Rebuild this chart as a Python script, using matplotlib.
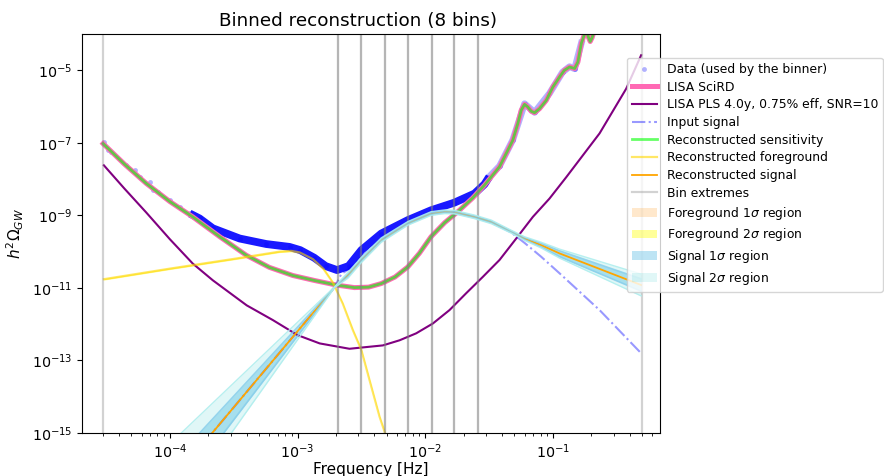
import numpy as np
import matplotlib
matplotlib.use("Agg")
import matplotlib.pyplot as plt
from matplotlib.ticker import NullLocator, FixedLocator

# ---------------- data ----------------
data_f = np.array([3.04e-5, 3.27e-5, 3.47e-5, 4.56e-5, 5.30e-5, 5.80e-5, 6.95e-5, 7.37e-5, 8.05e-5,
                   9.95e-5, 1.19e-4, 1.43e-4, 1.71e-4, 2.17e-4, 3.52e-4, 5.69e-4, 8.65e-4, 1.05e-3,
                   1.35e-3, 1.66e-3, 2.04e-3, 2.51e-3, 3.16e-3, 4.53e-3, 7.31e-3, 1.11e-2, 1.69e-2,
                   2.43e-2, 2.91e-2, 3.18e-2, 3.82e-2, 4.85e-2, 6.0e-2, 7.18e-2, 9.4e-2, 0.119,
                   0.135, 0.148, 0.167])
data_omega = np.array([1.06e-7, 6.25e-8, 5.6e-8, 2.41e-8, 1.76e-8, 1.11e-8, 8.4e-9, 4.9e-9, 4.4e-9,
                       2.6e-9, 1.7e-9, 1.13e-9, 8.2e-10, 4.4e-10, 2.3e-10, 1.62e-10, 1.35e-10, 1.1e-10,
                       6.8e-11, 4.0e-11, 3.1e-11, 4.0e-11, 1.1e-10, 3.16e-10, 7.4e-10, 1.38e-9, 2.24e-9,
                       3.98e-9, 7.2e-9, 1.17e-8, 2.29e-8, 1.2e-7, 1.2e-6, 6.9e-7, 2.3e-6, 8.9e-6,
                       1.26e-5, 1.1e-5, 5.6e-5])

sens_f = np.array([3.0e-5, 4.4e-5, 6.53e-5, 1.0e-4, 1.51e-4, 2.45e-4, 3.98e-4, 6.0e-4, 9.18e-4, 1.36e-3,
                   2.01e-3, 2.79e-3, 3.6e-3, 4.53e-3, 5.8e-3, 7.31e-3, 9.0e-3, 1.11e-2, 1.42e-2, 1.80e-2,
                   2.35e-2, 2.91e-2, 3.82e-2, 4.85e-2, 5.31e-2, 5.65e-2, 6.0e-2,
                   6.35e-2, 6.76e-2, 7.18e-2, 7.85e-2, 8.87e-2, 0.1, 0.113, 0.123, 0.135, 0.148,
                   0.157, 0.167, 0.177, 0.183, 0.19, 0.196, 0.203, 0.21, 0.26, 0.35, 0.5])
sens_omega = np.array([9.5e-8, 2.6e-8, 7.6e-9, 2.4e-9, 9.1e-10, 2.6e-10, 7.9e-11, 3.7e-11, 2.2e-11, 1.6e-11,
                       1.2e-11, 1.02e-11, 1.05e-11, 1.32e-11, 2.0e-11, 3.8e-11, 9.0e-11, 2.57e-10, 6.3e-10, 1.26e-9,
                       3.0e-9, 6.8e-9, 2.19e-8, 1.17e-7, 3.39e-7, 7.94e-7, 1.15e-6,
                       9.77e-7, 7.41e-7, 6.76e-7, 8.71e-7, 1.48e-6, 3.47e-6, 6.61e-6, 1.0e-5, 1.23e-5, 1.12e-5,
                       1.70e-5, 5.5e-5, 1.0e-4, 1.3e-4, 8.0e-5, 6.2e-5, 8.0e-5, 1.2e-4, 4.0e-4, 1.5e-3, 5.0e-3])
recsens_omega = sens_omega.copy()   # reconstructed sensitivity lies on the SciRD curve

pls_f = np.array([3.04e-5, 4.4e-5, 6.53e-5, 1.0e-4, 1.51e-4, 2.17e-4, 3.52e-4, 4.0e-4, 6.4e-4, 1.0e-3,
                  1.49e-3, 2.55e-3, 4.66e-3, 6.30e-3, 8.5e-3, 1.15e-2, 1.55e-2, 2.09e-2, 2.82e-2, 3.82e-2,
                  5.16e-2, 6.97e-2, 9.4e-2, 0.127, 0.232, 0.375, 0.491])
pls_omega = np.array([2.4e-8, 5.5e-9, 1.2e-9, 2.2e-10, 4.7e-11, 1.62e-11, 4.6e-12, 3.3e-12, 1.3e-12, 5.0e-13,
                      2.95e-13, 2.1e-13, 2.6e-13, 3.6e-13, 5.6e-13, 1.05e-12, 2.45e-12, 7.1e-12, 2.0e-11, 5.9e-11,
                      2.3e-10, 9.1e-10, 2.9e-9, 1.12e-8, 1.82e-7, 3.1e-6, 2.6e-5])

input_f = np.array([1.0e-4, 1.95e-3, 2.2e-3, 2.48e-3, 3.16e-3, 4.53e-3, 7.31e-3, 1.11e-2, 1.42e-2,
                    1.69e-2, 2.43e-2, 3.29e-2, 4.71e-2, 6.0e-2, 8.09e-2, 0.113, 0.232, 0.491])
input_omega = np.array([4.07e-17, 1.05e-11, 2.40e-11, 3.16e-11, 7.08e-11, 2.24e-10, 6.03e-10, 1.12e-9,
                        1.26e-9, 1.23e-9, 9.12e-10, 6.61e-10, 3.39e-10, 1.74e-10, 7.24e-11, 2.51e-11,
                        2.45e-12, 1.58e-13])

fg_f = np.array([3.04e-5, 1.0e-4, 3.16e-4, 7.23e-4, 8.9e-4, 1.04e-3, 1.32e-3, 1.6e-3, 1.89e-3, 2.26e-3,
                 2.71e-3, 3.16e-3, 3.66e-3, 4.39e-3, 4.80e-3, 5.25e-3])
fg_omega = np.array([1.74e-11, 3.4e-11, 6.3e-11, 1.0e-10, 1.05e-10, 9.5e-11, 6.2e-11, 3.3e-11, 1.41e-11, 3.7e-12,
                     6.9e-13, 1.95e-13, 2.9e-14, 2.8e-15, 1.1e-15, 3.0e-16])
fg_1s_lo = fg_omega * 0.97
fg_1s_hi = fg_omega * 1.03
fg_2s_lo = fg_omega * 0.94
fg_2s_hi = fg_omega * 1.06

sig_f = np.array([1.0e-4, 1.95e-3, 2.48e-3, 3.16e-3, 4.53e-3, 7.31e-3, 1.11e-2, 1.42e-2, 1.69e-2,
                  2.43e-2, 3.29e-2, 4.71e-2, 6.0e-2, 8.09e-2, 0.113, 0.491])
sig_omega = np.array([4.07e-17, 1.05e-11, 2.24e-11, 5.89e-11, 2.09e-10, 6.03e-10, 1.12e-9, 1.26e-9, 1.23e-9,
                      9.12e-10, 6.61e-10, 3.55e-10, 2.29e-10, 1.51e-10, 8.91e-11, 1.20e-11])
sig_2s_hi = np.array([5.01e-16, 1.07e-11, 2.69e-11, 6.92e-11, 2.40e-10, 6.76e-10, 1.26e-9, 1.41e-9, 1.38e-9,
                      1.02e-9, 7.41e-10, 3.89e-10, 2.57e-10, 1.82e-10, 1.17e-10, 2.40e-11])
sig_1s_hi = np.array([1.29e-16, 1.06e-11, 2.45e-11, 6.38e-11, 2.24e-10, 6.38e-10, 1.19e-9, 1.33e-9, 1.30e-9,
                      9.66e-10, 7.0e-10, 3.72e-10, 2.45e-10, 1.70e-10, 1.05e-10, 1.78e-11])
sig_1s_lo = np.array([1.12e-17, 1.04e-11, 2.04e-11, 5.43e-11, 1.95e-10, 5.69e-10, 1.06e-9, 1.19e-9, 1.16e-9,
                      8.61e-10, 6.24e-10, 3.39e-10, 2.14e-10, 1.35e-10, 7.24e-11, 8.13e-12])
sig_2s_lo = np.array([4.07e-18, 1.02e-11, 1.86e-11, 5.01e-11, 1.82e-10, 5.37e-10, 1.0e-9, 1.12e-9, 1.10e-9,
                      8.13e-10, 5.89e-10, 3.24e-10, 2.04e-10, 1.26e-10, 6.61e-11, 6.03e-12])

bin_edges = [3.0e-5, 2.07e-3, 3.16e-3, 4.8e-3, 7.3e-3, 1.13e-2, 1.69e-2, 2.58e-2, 0.5]

y_ticks = [1e-15, 1e-13, 1e-11, 1e-9, 1e-7, 1e-5]

# ---------------- figure ----------------
plt.rcParams['font.size'] = 10
fig = plt.figure(figsize=(8.84, 4.76), dpi=100)
ax = fig.add_axes([82 / 884, 1 - 433 / 476, (660 - 82) / 884, (433 - 34) / 476])
ax.set_xscale('log')
ax.set_yscale('log')

# data
dense = (data_f >= 1.43e-4) & (data_f <= 3.18e-2)
high = data_f >= 3.18e-2
ax.plot(data_f[dense], data_omega[dense], '-', color='blue', lw=5.6, alpha=0.9, solid_capstyle='butt')
ax.plot(data_f[high], data_omega[high], '-', color='blue', lw=4.8, alpha=0.3)
ax.plot(data_f, data_omega, 'o', color='blue', alpha=0.3, ms=3.5, mew=0,
        label='Data (used by the binner)')

ax.plot(sens_f, sens_omega, color='hotpink', lw=3.6, label='LISA SciRD')
ax.plot(pls_f, pls_omega, color='purple', lw=1.5, label='LISA PLS 4.0y, 0.75% eff, SNR=10')
ax.plot(input_f, input_omega, color='blue', alpha=0.4, lw=1.5, ls='-.', label='Input signal')
ax.plot(sens_f, recsens_omega, color='lime', alpha=0.6, lw=2.0, label='Reconstructed sensitivity')
ax.plot(fg_f, fg_omega, color='gold', alpha=0.6, lw=1.6, label='Reconstructed foreground')
ax.plot(sig_f, sig_omega, color='orange', lw=1.3, label='Reconstructed signal')

for i in range(len(bin_edges) - 1):
    ax.axvline(bin_edges[i], color='gray', alpha=0.35, lw=1.6,
               label='Bin extremes' if i == 0 else None)
    ax.axvline(bin_edges[i + 1], color='gray', alpha=0.35, lw=1.6)

ax.fill_between(fg_f, fg_1s_lo, fg_1s_hi, color='darkorange', alpha=0.2, lw=0,
                label=r'Foreground 1$\sigma$ region')
ax.fill_between(fg_f, fg_2s_lo, fg_2s_hi, color='yellow', alpha=0.4, lw=0,
                label=r'Foreground 2$\sigma$ region')
ax.fill_between(sig_f, sig_1s_lo, sig_1s_hi, color='skyblue', alpha=0.55, lw=0,
                label=r'Signal 1$\sigma$ region')
ax.fill_between(sig_f, sig_2s_lo, sig_2s_hi, color='c', alpha=0.12, lw=0,
                label=r'Signal 2$\sigma$ region')
# outlines of the signal regions (drawn as lines, above the reconstructed signal)
ax.plot(sig_f, sig_1s_hi, color='skyblue', lw=1.2, alpha=0.85)
ax.plot(sig_f, sig_1s_lo, color='skyblue', lw=1.2, alpha=0.85)
ax.plot(sig_f, sig_2s_hi, color='paleturquoise', lw=1.0, alpha=0.9)
ax.plot(sig_f, sig_2s_lo, color='paleturquoise', lw=1.0, alpha=0.9)

ax.set_xlim(2.05e-5, 0.69)
ax.set_ylim(1e-15, 1e-4)
ax.yaxis.set_major_locator(FixedLocator(y_ticks))
ax.yaxis.set_minor_locator(NullLocator())
ax.tick_params(labelsize=10.3)
ax.set_xlabel('Frequency [Hz]', fontsize=11, labelpad=0.5)
ax.set_ylabel(r'$h^2\Omega_{GW}$', fontsize=11)
ax.set_title('Binned reconstruction (8 bins)', fontsize=13.2, x=(358 - 82) / 578)

ax.legend(loc='upper left', bbox_to_anchor=(627 / 884, 1 - 58 / 476), bbox_transform=fig.transFigure,
          fontsize=8.9, labelspacing=0.38, borderaxespad=0, framealpha=0.8)

fig.savefig('out.png', dpi=100)
